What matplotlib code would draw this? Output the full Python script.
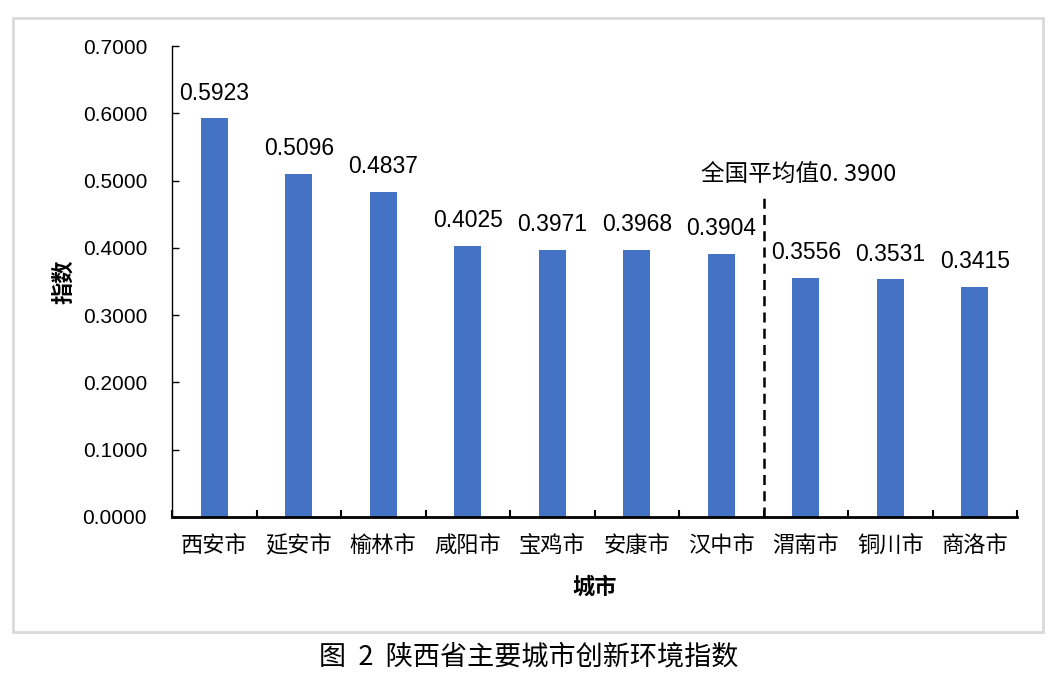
import matplotlib
matplotlib.use("Agg")
import matplotlib.pyplot as plt
from matplotlib.patches import Rectangle
from matplotlib.ticker import FormatStrFormatter, MultipleLocator, FixedLocator

plt.rcParams['font.family'] = ['Liberation Sans', 'Noto Sans CJK SC', 'DejaVu Sans']

cities = ["西安市", "延安市", "榆林市", "咸阳市", "宝鸡市", "安康市", "汉中市", "渭南市", "铜川市", "商洛市"]
values = [0.5923, 0.5096, 0.4837, 0.4025, 0.3971, 0.3968, 0.3904, 0.3556, 0.3531, 0.3415]
national_avg = 0.3900
avg_label = "全国平均值0. 3900"
x_title = "城市"
y_title = "指数"
caption = "图  2  陕西省主要城市创新环境指数"

W, H = 1060, 684
fig = plt.figure(figsize=(W / 100, H / 100), dpi=100)

# outer border box
fig.patches.append(Rectangle((13 / W, 1 - 632 / H), (1043 - 13) / W, (632 - 18) / H,
                             transform=fig.transFigure, fill=False,
                             edgecolor="#d9d9d9", linewidth=2))

ax = fig.add_axes([172 / W, 1 - 517 / H, (1017 - 172) / W, (517 - 46) / H])
x = list(range(len(cities)))
bars = ax.bar(x, values, width=0.32, color="#4472C4")
ax.set_xlim(-0.5, len(cities) - 0.5)
ax.set_ylim(0, 0.7)
ax.yaxis.set_major_locator(MultipleLocator(0.1))
ax.yaxis.set_major_formatter(FormatStrFormatter("%.4f"))
ax.set_xticks(x)
ax.set_xticklabels(cities, fontsize=16, fontfamily=['Noto Sans CJK SC'])
ax.xaxis.set_minor_locator(FixedLocator([i - 0.5 for i in range(len(cities) + 1)]))
ax.tick_params(axis='x', which='major', length=0, pad=12)
ax.tick_params(axis='x', which='minor', direction='in', length=5, width=1.5)
ax.tick_params(axis='y', direction='in', length=5, width=1, labelsize=15, pad=18)
for s in ["top", "right"]:
    ax.spines[s].set_visible(False)
ax.spines["bottom"].set_linewidth(2)
ax.spines["left"].set_linewidth(1)

for xi, v in zip(x, values):
    ax.annotate(f"{v:.4f}", (xi, v), xytext=(0, 10), textcoords="offset points",
                ha="center", va="bottom", fontsize=16.5)

ax.plot([6.5, 6.5], [0, 0.475], linestyle=(0, (4, 2.5)), color="black", linewidth=1.8)
ax.text(6.91, 0.508, avg_label, ha="center", va="center", fontsize=17,
        fontfamily=['Noto Sans CJK SC'])

ax.set_xlabel(x_title, fontsize=16, fontweight="bold", fontfamily=['Noto Sans CJK SC'], labelpad=14)
ax.set_ylabel(y_title, fontsize=16, fontweight="bold", fontfamily=['Noto Sans CJK SC'], labelpad=5)

fig.text(529 / W, 1 - 657 / H, caption, ha="center", va="center", fontsize=19.5,
         fontfamily=['Noto Sans CJK SC', 'DejaVu Sans'])

fig.savefig("out.png", dpi=100)
